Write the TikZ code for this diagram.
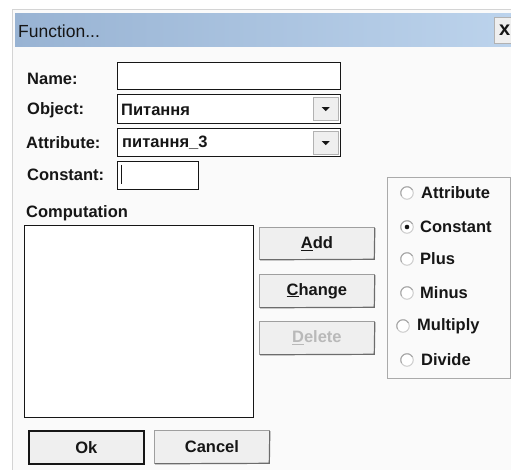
\documentclass[tikz,border=0pt]{standalone}
\usepackage{fontspec}
\setmainfont{Liberation Sans}
\definecolor{ink}{HTML}{161616}
\definecolor{barL}{HTML}{98B3D3}
\definecolor{barR}{HTML}{BCD3EC}
\definecolor{btnface}{HTML}{EFEFEF}
\definecolor{frame}{HTML}{D4D4D4}
\begin{document}
\begin{tikzpicture}[x=1pt,y=-1pt,
  lbl/.style={anchor=west,inner sep=0pt,text=ink,font=\bfseries\fontsize{16.5}{18}\selectfont},
  val/.style={anchor=west,inner sep=0pt,text=ink,font=\bfseries\fontsize{16.5}{18}\selectfont},
  field/.style={draw=ink,line width=1.3pt,fill=white,anchor=north west,inner sep=0pt},
  btn/.style={draw=gray!75,line width=0.8pt,fill=btnface,anchor=north west,inner sep=0pt,
     minimum width=115pt,minimum height=32pt,text=ink,font=\bfseries\fontsize{16.5}{18}\selectfont},
  ddbtn/.style={draw=gray!60,fill=btnface,anchor=north west,inner sep=0pt,minimum width=25pt,minimum height=23pt},
  radio/.style={circle,draw=gray!40,line width=1pt,fill=white,minimum size=12.5pt,inner sep=0pt},
  rtext/.style={anchor=west,inner sep=0pt,text=ink,font=\bfseries\fontsize{16.5}{18}\selectfont}]
\useasboundingbox (0,0) rectangle (511,470);
\clip (0,0) rectangle (511,470);
% window
\fill[white] (0,0) rectangle (511,470);
\fill[white!98!black] (12,10) rectangle (511,470);
\draw[frame,line width=1pt] (12,470) -- (12,10) -- (511,10);
\shade[left color=barL,right color=barR] (15,14) rectangle (511,47);
\node[anchor=west,inner sep=0pt,text=ink,font=\fontsize{17.5}{19}\selectfont] (title) at (18,31) {Function...};
\node[draw=gray!60,fill=btnface,anchor=north west,inner sep=0pt,minimum width=20pt,minimum height=26pt] (closebtn) at (494,17) {};
\node[inner sep=0pt,anchor=west,text=ink,font=\bfseries\fontsize{20}{21}\selectfont] (closex) at (499,30) {x};
% labels
\node[lbl] (lname) at (27,79) {Name:};
\node[lbl] (lobj) at (27,110) {Object:};
\node[lbl] (lattr) at (26,143) {Attribute:};
\node[lbl] (lconst) at (27,175) {Constant:};
\node[lbl] (lcomp) at (26,213) {Computation};
% fields
\node[field,minimum width=223pt,minimum height=27pt] (fname) at (117,62) {};
\node[field,minimum width=223pt,minimum height=29pt] (fobj) at (117,94) {};
\node[ddbtn] (dobj) at (313,97) {};
\fill[ink] ([xshift=-4pt,yshift=1.5pt]dobj.center) -- ([xshift=4pt,yshift=1.5pt]dobj.center) -- ([yshift=-2.5pt]dobj.center) -- cycle;
\node[val] (vobj) at (121,110) {Питання};
\node[field,minimum width=223pt,minimum height=28pt] (fattr) at (117,128) {};
\node[ddbtn] (dattr) at (313,131) {};
\fill[ink] ([xshift=-4pt,yshift=1.5pt]dattr.center) -- ([xshift=4pt,yshift=1.5pt]dattr.center) -- ([yshift=-2.5pt]dattr.center) -- cycle;
\node[val] (vattr) at (122,143) {питання\_3};
\node[field,minimum width=81pt,minimum height=28pt] (fconst) at (117,161) {};
\coordinate (cur1) at (121,165);
\coordinate (cur2) at (121,184);
\draw[ink,line width=1pt] (cur1) -- (cur2);
% listbox
\node[field,minimum width=229pt,minimum height=192pt] (list) at (24,225) {};
% buttons
\node[btn] (add) at (259,227) {\underline{A}dd};
\node[btn,minimum height=33pt] (change) at (259,274) {\underline{C}hange};
\node[btn,minimum height=33pt,text=gray!55] (delete) at (259,321) {\underline{D}elete};
\node[btn,minimum height=33pt,draw=ink,line width=1.8pt] (ok) at (28,430) {Ok};
\node[btn,minimum height=33pt] (cancel) at (154,430) {Cancel};
\foreach \b in {add,change,delete,cancel}{
  \draw[gray!85!black,line width=1.2pt] ([xshift=1pt]\b.south west) -- ([xshift=-0.5pt,yshift=0.5pt]\b.south east) -- ([yshift=-1pt]\b.north east);
}
% radio group
\node[draw=frame!80!black,line width=1pt,anchor=north west,inner sep=0pt,minimum width=123pt,minimum height=201pt] (grp) at (387,177) {};
\node[radio] (r1) at (407,193) {};
\node[rtext] (t1) at (421,193) {Attribute};
\node[radio] (r2) at (407,227) {};
\fill[ink] (r2.center) circle (2.3pt);
\node[rtext] (t2) at (420,227) {Constant};
\node[radio] (r3) at (407,259) {};
\node[rtext] (t3) at (420,259) {Plus};
\node[radio] (r4) at (407,293) {};
\node[rtext] (t4) at (420,293) {Minus};
\node[radio] (r5) at (403,326) {};
\node[rtext] (t5) at (417,326) {Multiply};
\node[radio] (r6) at (407,360) {};
\node[rtext] (t6) at (421,360) {Divide};
\foreach \r in {r1,r2,r3,r4,r5,r6}{
  \draw[gray!70,line width=1pt] (\r.center) ++(30:6.25pt) arc (30:210:6.25pt);
}
\end{tikzpicture}
\end{document}
